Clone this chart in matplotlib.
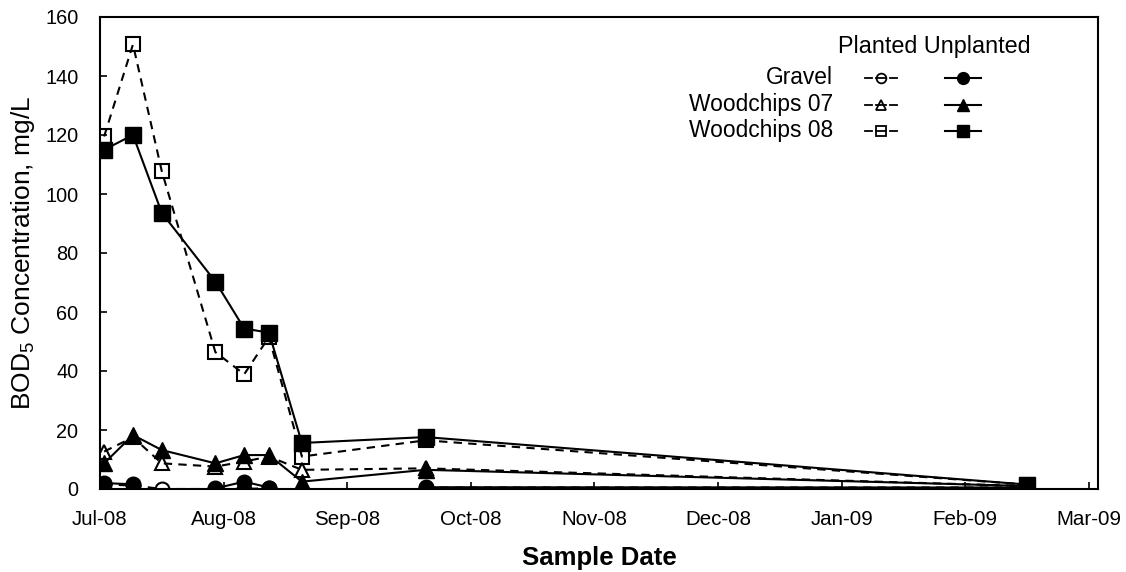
import numpy as np
import matplotlib
matplotlib.use("Agg")
import matplotlib.pyplot as plt
import matplotlib.dates as mdates
from matplotlib.lines import Line2D
import datetime as dt

plt.rcParams['font.family'] = ['Liberation Sans', 'DejaVu Sans']
plt.rcParams['mathtext.fontset'] = 'custom'
plt.rcParams['mathtext.rm'] = 'Liberation Sans'
plt.rcParams['mathtext.it'] = 'Liberation Sans:italic'
plt.rcParams['mathtext.bf'] = 'Liberation Sans:bold'

# ---- data ----
sample_dates = ["2008-07-07", "2008-07-14", "2008-07-21", "2008-08-03", "2008-08-10",
                "2008-08-16", "2008-08-24", "2008-09-23", "2009-02-16"]
nan = np.nan
gravel_planted = [1.5, 1.2, 0.0, 0.0, 0.0, 0.3, nan, 0.5, 0.5]
gravel_unplanted = [2.0, 1.6, nan, 0.2, 2.5, 0.5, nan, 0.6, 0.5]
wood07_planted = [12.7, 17.5, 8.7, 7.6, 9.3, 11.0, 6.5, 7.0, 1.0]
wood07_unplanted = [8.7, 18.3, 13.2, 8.7, 11.5, 11.5, 2.5, 6.5, 1.0]
wood08_planted = [119.5, 150.7, 107.7, 46.4, 38.9, 51.5, 11.0, 16.5, 1.5]
wood08_unplanted = [115.0, 120.0, 93.6, 70.3, 54.4, 53.0, 15.6, 17.6, 1.5]

axis_start = "2008-07-06"
tick_step_days = 30
n_ticks = 9
y_ticks = [0, 20, 40, 60, 80, 100, 120, 140, 160]

x = mdates.date2num([dt.datetime.strptime(d, "%Y-%m-%d") for d in sample_dates])
x0 = mdates.date2num(dt.datetime.strptime(axis_start, "%Y-%m-%d"))

fig = plt.figure(figsize=(11.26, 5.72), dpi=100)
ax = fig.add_axes([100/1126, 83/572, 998/1126, 472/572])

planted_style = dict(color='black', lw=1.5, ls=(0, (4, 3)), markerfacecolor='none',
                     markeredgecolor='black', markeredgewidth=1.5)
unplanted_style = dict(color='black', lw=1.5, ls='-', markerfacecolor='black',
                       markeredgecolor='black')

ax.plot(x, gravel_planted, marker='o', ms=10, zorder=3, **planted_style)
ax.plot(x, wood07_planted, marker='^', ms=10.5, zorder=3, **planted_style)
ax.plot(x, wood08_planted, marker='s', ms=10.5, zorder=3, **planted_style)
ax.plot(x, gravel_unplanted, marker='o', ms=10.5, zorder=4, **unplanted_style)
ax.plot(x, wood07_unplanted, marker='^', ms=11.5, zorder=4, **unplanted_style)
ax.plot(x, wood08_unplanted, marker='s', ms=11, zorder=4, **unplanted_style)

ax.set_xlim(x0, x0 + tick_step_days * (n_ticks - 1) + 2.2)
ax.set_ylim(0, 160)
ax.set_xticks([x0 + tick_step_days * k for k in range(n_ticks)])
ax.xaxis.set_major_formatter(mdates.DateFormatter('%b-%y'))
ax.set_yticks(y_ticks)
ax.tick_params(direction='in', length=5, width=1.2, colors='black')
ax.tick_params(axis='x', labelsize=14.8, pad=15)
ax.tick_params(axis='y', labelsize=14.3, pad=15.5)
for s in ax.spines.values():
    s.set_linewidth(1.5)

ax.set_ylabel("BOD$_5$ Concentration, mg/L", fontsize=19, labelpad=6)
ax.set_xlabel("Sample Date", fontsize=18.5, fontweight='bold', labelpad=12)

# ---- custom legend table ----
def fx(px):
    return (px - 100) / 998

def fy(py):
    return (489 - py) / 472

ax.text(fx(934), fy(46), "Planted Unplanted", transform=ax.transAxes, ha='center',
        va='center', fontsize=16.8)
rows = [("Gravel", 'o', 78), ("Woodchips 07", '^', 105), ("Woodchips 08", 's', 131)]
for label, mk, py in rows:
    ax.text(fx(833), fy(py), label, transform=ax.transAxes, ha='right', va='center',
            fontsize=16.4)
    yy = fy(py)
    # planted glyph: short dashes with small open marker
    for a, b in [(865, 872), (876, 886), (890, 897)]:
        ax.add_line(Line2D([fx(a), fx(b)], [yy, yy], transform=ax.transAxes, color='black',
                           lw=1.3, clip_on=False))
    ax.add_line(Line2D([fx(881)], [yy], transform=ax.transAxes, marker=mk, ms=7,
                       markerfacecolor='none', markeredgecolor='black', markeredgewidth=1.3,
                       ls='none', clip_on=False))
    # unplanted glyph
    ax.add_line(Line2D([fx(945), fx(981)], [yy, yy], transform=ax.transAxes, color='black',
                       lw=1.5, clip_on=False))
    ax.add_line(Line2D([fx(963)], [yy], transform=ax.transAxes, marker=mk, ms=8.5,
                       markerfacecolor='black', markeredgecolor='black', ls='none', clip_on=False))

fig.savefig("out.png", dpi=100)
